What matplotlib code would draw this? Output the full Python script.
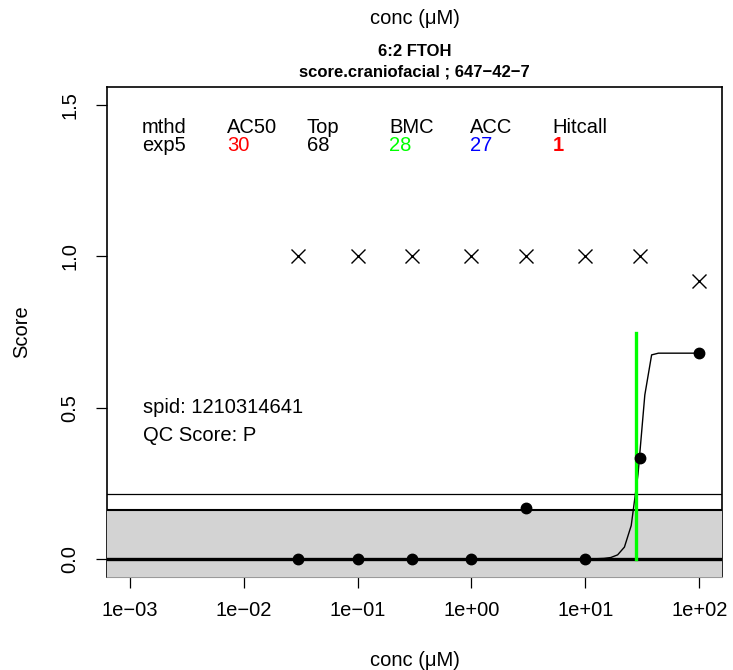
import matplotlib

matplotlib.use("Agg")

import matplotlib.pyplot as plt
import numpy as np

plt.rcParams["font.family"] = ["Liberation Sans", "DejaVu Sans"]

# observed responses
conc = [0.03, 0.1, 0.3, 1, 3, 10, 30, 100]
resp = [0.0, 0.0, 0.0, 0.0, 0.1667, 0.0, 0.3333, 0.68]
# second marker series (x symbols)
frac = [1.0, 1.0, 1.0, 1.0, 1.0, 1.0, 1.0, 0.917]

# exp5 fit parameters
fit_tp = 0.68
fit_ga = 30.0
fit_p = 8.0
bmc = 28.0
cutoff = 0.16
upper_line = 0.216

header = ["mthd", "AC50", "Top", "BMC", "ACC", "Hitcall"]
values = ["exp5", "30", "68", "28", "27", "1"]
value_colors = ["black", "red", "black", "#00FF00", "blue", "red"]

fig = plt.figure(figsize=(7.33, 6.70), dpi=100)
ax = fig.add_axes([107 / 733, 93 / 670, 615 / 733, 490 / 670])
ax.set_xscale("log")
lo, hi = np.log10(1e-3), np.log10(1e2)
pad = 0.04 * (hi - lo)
ax.set_xlim(10 ** (lo - pad), 10 ** (hi + pad))
ax.set_ylim(-0.06, 1.56)

# cutoff band
ax.axhspan(-cutoff, cutoff, color="#D3D3D3", lw=0, zorder=3)
ax.axhline(cutoff, color="black", lw=1.5, zorder=4)
ax.axhline(upper_line, color="black", lw=0.9, zorder=4)
ax.axhline(0, color="black", lw=2.4, zorder=4)

# fitted curve
xs = np.logspace(np.log10(min(conc)), np.log10(max(conc)), 60)
ys = fit_tp * (1 - 2 ** (-(xs / fit_ga) ** fit_p))
ax.plot(xs, ys, color="black", lw=1.0, zorder=5)

ax.plot([bmc, bmc], [0, fit_tp * 1.1], color="#00FF00", lw=2.4, zorder=6)

ax.plot(conc, resp, "o", color="black", ms=7.5, zorder=7)
ax.plot(conc, frac, "x", color="black", ms=10, mew=1.0, zorder=7)

for sp in ax.spines.values():
    sp.set_linewidth(1.2)
    sp.set_zorder(2.5)
ax.spines["bottom"].set_color("#9a9a9a")
ax.spines["bottom"].set_linewidth(0.8)

ax.set_xticks([1e-3, 1e-2, 1e-1, 1e0, 1e1, 1e2])
ax.set_xticklabels(["1e\u221203", "1e\u221202", "1e\u221201", "1e+00", "1e+01", "1e+02"])
ax.xaxis.set_minor_locator(matplotlib.ticker.NullLocator())
ax.set_yticks([0, 0.5, 1.0, 1.5])
ax.set_yticklabels(["0.0", "0.5", "1.0", "1.5"], rotation=90, va="center")
ax.tick_params(axis="both", length=8, width=0.9, labelsize=14.5, direction="out")
ax.tick_params(axis="x", pad=9)
ax.tick_params(axis="y", pad=12)

xpos = [0.057, 0.195, 0.325, 0.459, 0.590, 0.724]
for i in range(len(header)):
    ax.text(xpos[i], 0.918, header[i], transform=ax.transAxes, fontsize=14.5,
            ha="left", va="center")
    ax.text(xpos[i], 0.880, values[i], transform=ax.transAxes, fontsize=14.5,
            ha="left", va="center", color=value_colors[i],
            fontweight="bold" if header[i] == "Hitcall" else "normal")

ax.text(0.058, 0.345, "spid: 1210314641", transform=ax.transAxes, fontsize=14.5,
        ha="left", va="center")
ax.text(0.058, 0.288, "QC Score: P", transform=ax.transAxes, fontsize=14.5,
        ha="left", va="center")

cx = (107 + 722) / 2 / 733
fig.text(cx, 1 - 18 / 670, "conc (\u03bcM)", fontsize=14.5, ha="center", va="center")
fig.text(cx, 1 - 52 / 670, "6:2 FTOH", fontsize=12, fontweight="bold", ha="center", va="center")
fig.text(cx, 1 - 72 / 670, "score.craniofacial ; 647\u221242\u22127", fontsize=12,
         fontweight="bold", ha="center", va="center")
fig.text(cx, 1 - 660 / 670, "conc (\u03bcM)", fontsize=14.5, ha="center", va="center")
fig.text(22 / 733, 1 - 332 / 670, "Score", fontsize=14.5, rotation=90, ha="center", va="center")

fig.savefig("out.png", dpi=100)
